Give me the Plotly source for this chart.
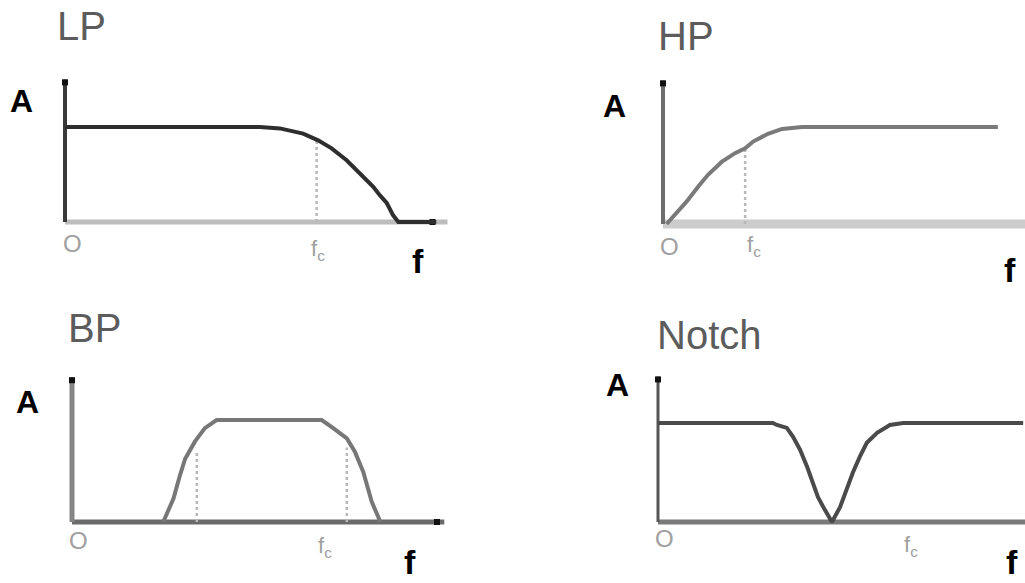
import plotly.graph_objects as go

W, H = 1025, 583

# ---------------- data (f: arbitrary units along each axis, A: normalised, passband = 1)
lp_f = [0, 5.2, 5.73, 6.35, 6.75, 7.11, 7.51, 7.73, 7.95, 8.22, 8.4, 8.58, 8.75, 8.89, 9.9]
lp_a = [1, 1, 0.985, 0.93, 0.86, 0.775, 0.65, 0.565, 0.48, 0.37, 0.28, 0.2, 0.07, 0, 0]
lp_fc = [6.71]
lp_fc_a = [0.86]

hp_f = [0.1, 0.33, 0.65, 0.98, 1.25, 1.62, 1.99, 2.27, 2.49, 2.9, 3.29, 3.84, 9.25]
hp_a = [0, 0.09, 0.23, 0.39, 0.51, 0.64, 0.73, 0.78, 0.85, 0.93, 0.98, 1, 1]
hp_fc = [2.27]
hp_fc_a = [0.78]

bp_f = [2.5, 2.78, 2.96, 3.1, 3.37, 3.64, 3.96, 6.84, 7.12, 7.53, 7.75, 7.98, 8.21, 8.39, 8.45]
bp_a = [0, 0.23, 0.46, 0.62, 0.79, 0.92, 1, 1, 0.93, 0.82, 0.69, 0.49, 0.2, 0.04, 0]
bp_fc = [3.42, 7.53]
bp_fc_a = [0.69, 0.73]

notch_f = [0, 3.13, 3.24, 3.51, 3.68, 3.87, 4.06, 4.22, 4.36, 4.55, 4.74, 4.96, 5.15, 5.31, 5.5, 5.69, 5.97, 6.32, 6.68, 9.95]
notch_a = [1, 1, 0.98, 0.95, 0.86, 0.73, 0.56, 0.39, 0.25, 0.12, 0, 0.15, 0.35, 0.5, 0.66, 0.8, 0.9, 0.98, 1, 1]
notch_fc = []
notch_fc_a = []

titles = ["LP", "HP", "BP", "Notch"]
y_label = "A"
x_label = "f"
origin_label = "O"
fc_label = "f<sub>c</sub>"

# ---------------- panel geometry (pixel frames) and styles
panels = [
    dict(name="LP", f=lp_f, a=lp_a, fc=lp_fc, fca=lp_fc_a,
         box=(0, 0, 512, 291), ox=65, oy=222, sx=37.5, sy=95,
         fmax=10.2, amax=1.5, arrow_f=9.8, arrow_x=True,
         yax=dict(color="#3a3a3a", width=4), xax=dict(color="#bdbdbd", width=5),
         curve=dict(color="#2e2e2e", width=4),
         lab=dict(title=(81, 26), A=(21, 101), O=(72, 243), fc=(318, 250), f=(418, 261))),
    dict(name="HP", f=hp_f, a=hp_a, fc=hp_fc, fca=hp_fc_a,
         box=(512, 0, 1025, 291), ox=663, oy=224, sx=36.2, sy=97,
         fmax=10.2, amax=1.48, arrow_f=None, arrow_x=False,
         yax=dict(color="#6e6e6e", width=4), xax=dict(color="#cccccc", width=9),
         curve=dict(color="#7a7a7a", width=4),
         lab=dict(title=(686, 36), A=(614, 106), O=(669, 246), fc=(754, 246), f=(1010, 270))),
    dict(name="BP", f=bp_f, a=bp_a, fc=bp_fc, fca=bp_fc_a,
         box=(0, 291, 512, 583), ox=72, oy=522, sx=36.5, sy=102,
         fmax=10.2, amax=1.42, arrow_f=10, arrow_x=True,
         yax=dict(color="#858585", width=5), xax=dict(color="#6a6a6a", width=5),
         curve=dict(color="#777777", width=4),
         lab=dict(title=(94, 328), A=(27, 402), O=(78, 540), fc=(325, 547), f=(410, None))),
    dict(name="Notch", f=notch_f, a=notch_a, fc=notch_fc, fca=notch_fc_a,
         box=(512, 291, 1025, 583), ox=658, oy=522, sx=36.7, sy=99,
         fmax=10.2, amax=1.47, arrow_f=None, arrow_x=False,
         yax=dict(color="#555555", width=3), xax=dict(color="#7a7a7a", width=5),
         curve=dict(color="#4a4a4a", width=4),
         lab=dict(title=(709, 335), A=(617, 385), O=(664, 538), fc=(911, 546), f=(1012, None))),
]

FONT = "Liberation Sans, Arial, sans-serif"

fig = go.Figure()
layout = dict(width=W, height=H, margin=dict(l=0, r=0, t=0, b=0),
              paper_bgcolor="white", plot_bgcolor="rgba(0,0,0,0)", showlegend=False)
annotations = []


def paper(px, py):
    return px / W, 1 - py / H


for i, p in enumerate(panels):
    k = "" if i == 0 else str(i + 1)
    xa, ya = "x" + k, "y" + k
    x0, y0, x1, y1 = p["box"]
    layout["xaxis" + k] = dict(domain=[x0 / W, x1 / W],
                               range=[(x0 - p["ox"]) / p["sx"], (x1 - p["ox"]) / p["sx"]],
                               visible=False, fixedrange=True, anchor=ya)
    layout["yaxis" + k] = dict(domain=[1 - y1 / H, 1 - y0 / H],
                               range=[(p["oy"] - y1) / p["sy"], (p["oy"] - y0) / p["sy"]],
                               visible=False, fixedrange=True, anchor=xa)

    # frequency axis
    fig.add_trace(go.Scatter(x=[0, p["fmax"]], y=[0, 0], mode="lines",
                             line=dict(color=p["xax"]["color"], width=p["xax"]["width"]),
                             xaxis=xa, yaxis=ya, hoverinfo="skip"))
    # amplitude axis
    fig.add_trace(go.Scatter(x=[0, 0], y=[0, p["amax"]], mode="lines",
                             line=dict(color=p["yax"]["color"], width=p["yax"]["width"]),
                             xaxis=xa, yaxis=ya, hoverinfo="skip"))
    # arrow tips
    fig.add_trace(go.Scatter(x=[0], y=[p["amax"] - 0.03], mode="markers",
                             marker=dict(symbol="square", size=6, color="#111111"),
                             xaxis=xa, yaxis=ya, hoverinfo="skip", cliponaxis=False))
    if p["arrow_x"]:
        fig.add_trace(go.Scatter(x=[p["arrow_f"]], y=[0], mode="markers",
                                 marker=dict(symbol="square", size=6, color="#111111"),
                                 xaxis=xa, yaxis=ya, hoverinfo="skip", cliponaxis=False))
    # cutoff guide lines
    for fc, fa in zip(p["fc"], p["fca"]):
        fig.add_trace(go.Scatter(x=[fc, fc], y=[0, fa], mode="lines",
                                 line=dict(color="#b8b8b8", width=2.5, dash="dot"),
                                 xaxis=xa, yaxis=ya, hoverinfo="skip"))
    # response curve
    fig.add_trace(go.Scatter(x=p["f"], y=p["a"], mode="lines",
                             line=dict(color=p["curve"]["color"], width=p["curve"]["width"]),
                             xaxis=xa, yaxis=ya, hoverinfo="skip"))

    lab = p["lab"]
    tx, ty = paper(*lab["title"])
    annotations.append(dict(text=titles[i], x=tx, y=ty, xref="paper", yref="paper",
                            showarrow=False, xanchor="center", yanchor="middle",
                            font=dict(family=FONT, size=40, color="#5c5c5c")))
    ax_, ay_ = paper(*lab["A"])
    annotations.append(dict(text="<b>" + y_label + "</b>", x=ax_, y=ay_, xref="paper", yref="paper",
                            showarrow=False, xanchor="center", yanchor="middle",
                            font=dict(family=FONT, size=32, color="#000000")))
    ox_, oy_ = paper(*lab["O"])
    annotations.append(dict(text=origin_label, x=ox_, y=oy_, xref="paper", yref="paper",
                            showarrow=False, xanchor="center", yanchor="middle",
                            font=dict(family=FONT, size=24, color="#a0a0a0")))
    cx_, cy_ = paper(*lab["fc"])
    annotations.append(dict(text=fc_label, x=cx_, y=cy_, xref="paper", yref="paper",
                            showarrow=False, xanchor="center", yanchor="middle",
                            font=dict(family=FONT, size=22, color="#a0a0a0")))
    fpx, fpy = lab["f"]
    if fpy is None:
        fx_, fy_ = paper(fpx, H)
        yanc = "bottom"
    else:
        fx_, fy_ = paper(fpx, fpy)
        yanc = "middle"
    annotations.append(dict(text="<b>" + x_label + "</b>", x=fx_, y=fy_, xref="paper", yref="paper",
                            showarrow=False, xanchor="center", yanchor=yanc,
                            font=dict(family=FONT, size=34, color="#000000")))

layout["annotations"] = annotations
fig.update_layout(**layout)
fig.write_html("out.html", config={"displayModeBar": False},
               post_script="document.body.style.margin='0';document.body.style.overflow='hidden';")
